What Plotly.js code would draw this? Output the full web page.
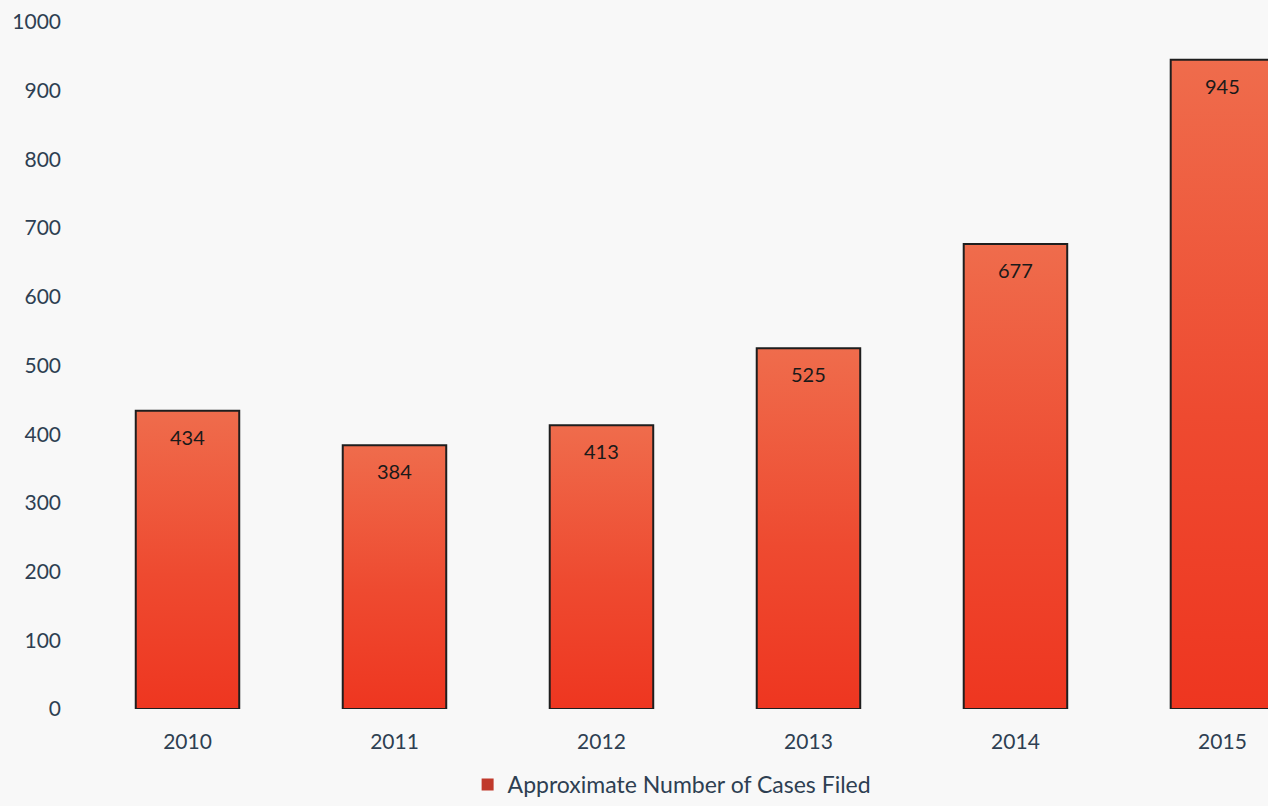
<!DOCTYPE html>
<html>
<head>
<meta charset="utf-8">
<script src="https://cdn.plot.ly/plotly-3.0.1.min.js"></script>
<style>html,body{margin:0;padding:0;background:#f8f8f8;}#chart{width:1268px;height:806px;}</style>
</head>
<body>
<div id="chart"></div>
<script>
const years = ['2010', '2011', '2012', '2013', '2014', '2015'];
const casesFiled = [434, 384, 413, 525, 677, 945];
const seriesName = 'Approximate Number of Cases Filed';
const yTicks = [0, 100, 200, 300, 400, 500, 600, 700, 800, 900, 1000];

const textColor = '#2e3f52';
const fontFamily = 'Lato, "Open Sans", sans-serif';

const trace = {
  type: 'bar',
  x: years,
  y: casesFiled,
  name: seriesName,
  width: 0.5,
  marker: { color: '#ee4a30', line: { color: '#1e1e1e', width: 2 } },
  showlegend: true,
  hoverinfo: 'none'
};

// category index used as the annotation position on the category axis
const annotations = casesFiled.map((v, i) => ({
  x: i, y: v, xref: 'x', yref: 'y',
  text: String(v), showarrow: false,
  yanchor: 'middle', yshift: -26,
  font: { family: fontFamily, size: 20, color: '#1a1a1a' }
}));

const layout = {
  width: 1268, height: 806,
  margin: { l: 84, r: 0, t: 22, b: 93 },
  paper_bgcolor: '#f8f8f8',
  plot_bgcolor: 'rgba(0,0,0,0)',
  font: { family: fontFamily, color: textColor, size: 21 },
  bargap: 0.5,
  xaxis: {
    type: 'category', range: [-0.5, 5.22],
    showgrid: false, zeroline: false, showline: false, ticks: '',
    ticklabelstandoff: 18,
    tickfont: { family: fontFamily, size: 21, color: textColor }
  },
  yaxis: {
    range: [0, 1000], tickvals: yTicks,
    showgrid: false, zeroline: false, showline: false, ticks: '',
    ticklabelstandoff: 22,
    tickfont: { family: fontFamily, size: 21, color: textColor }
  },
  showlegend: true,
  legend: {
    orientation: 'h', x: 0.324, xanchor: 'left', y: -0.11, yanchor: 'middle',
    bgcolor: 'rgba(0,0,0,0)',
    font: { family: fontFamily, size: 23, color: textColor },
    itemwidth: 30
  },
  annotations: annotations
};

Plotly.newPlot('chart', [trace], layout, { displayModeBar: false, staticPlot: true }).then(gd => {
  const svg = gd.querySelector('svg.main-svg');
  const ns = 'http://www.w3.org/2000/svg';
  let defs = svg.querySelector('defs');
  if (!defs) { defs = document.createElementNS(ns, 'defs'); svg.insertBefore(defs, svg.firstChild); }
  const grad = document.createElementNS(ns, 'linearGradient');
  grad.setAttribute('id', 'barGrad');
  grad.setAttribute('x1', '0'); grad.setAttribute('y1', '0');
  grad.setAttribute('x2', '0'); grad.setAttribute('y2', '1');
  [['0', '#ef6c4c'], ['0.55', '#ee4a30'], ['1', '#ee3620']].forEach(([o, c]) => {
    const s = document.createElementNS(ns, 'stop');
    s.setAttribute('offset', o); s.setAttribute('stop-color', c);
    grad.appendChild(s);
  });
  defs.appendChild(grad);
  gd.querySelectorAll('.barlayer .point path').forEach(p => { p.style.fill = 'url(#barGrad)'; });
  gd.querySelectorAll('.legend .legendpoints path').forEach(p => {
    p.style.fill = '#c0392b'; p.style.stroke = 'none';
  });
});
</script>
</body>
</html>
